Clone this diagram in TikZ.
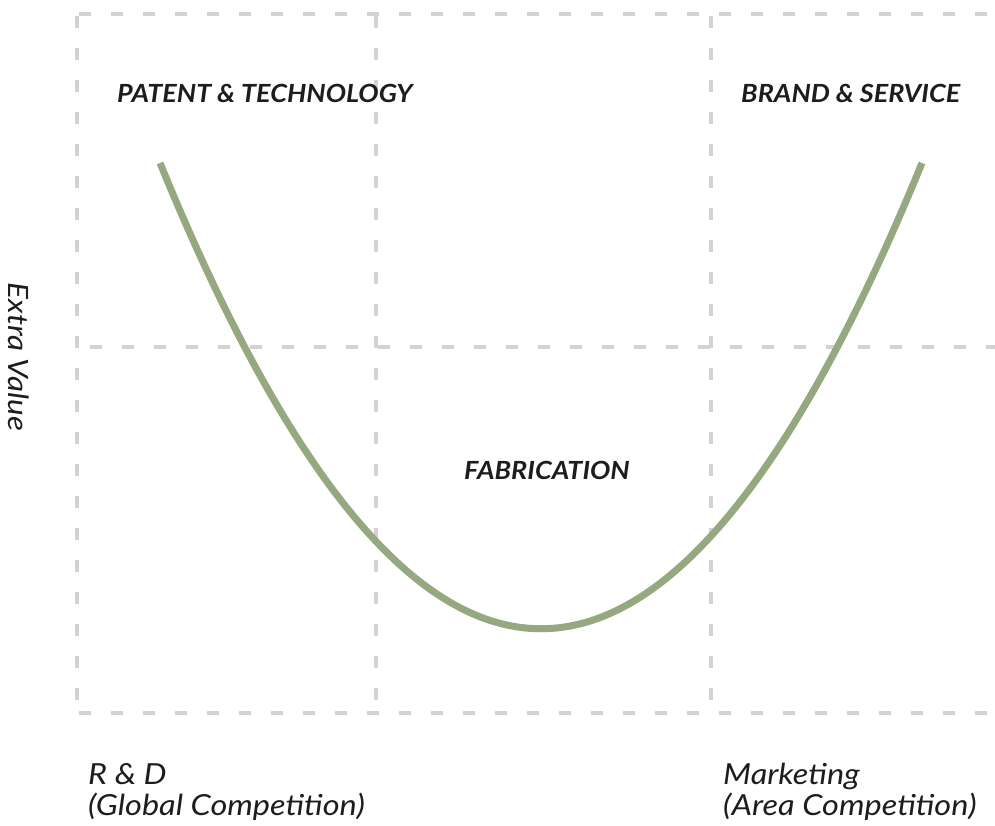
\documentclass[tikz,border=0pt]{standalone}
\usepackage{fontspec}
\setmainfont{Lato}
\newfontfamily\headfont[FakeStretch=1.08]{Lato}
\newfontfamily\axisfont[FakeStretch=1.12]{Lato}
\begin{document}
\begin{tikzpicture}[x=1pt,y=-1pt,
  gridline/.style={draw=gridgray,line width=4pt,dash pattern=on 12pt off 20pt},
  valuecurve/.style={draw=curvegreen,line width=7pt},
  headlabel/.style={anchor=base west,inner sep=0pt,font=\headfont\fontsize{25}{29}\selectfont\bfseries\itshape,text=labelblack},
  axislabel/.style={anchor=base west,inner sep=0pt,align=left,font=\axisfont\fontsize{29}{31}\selectfont\itshape,text=labelblack}]
\definecolor{gridgray}{HTML}{D2D2D2}
\definecolor{curvegreen}{HTML}{96A87F}
\definecolor{labelblack}{HTML}{1E1C1D}
\useasboundingbox (0,0) rectangle (995,826);
\fill[white] (0,0) rectangle (995,826);

% dashed grid
\coordinate (tl) at (77,14);
\coordinate (tr) at (995,14);
\coordinate (bl) at (77,713);
\coordinate (br) at (995,713);
\coordinate (ml) at (90,347);
\coordinate (mr) at (995,347);
\coordinate (c1t) at (376,14);
\coordinate (c1b) at (376,713);
\coordinate (c2t) at (711,14);
\coordinate (c2b) at (711,713);
\draw[gridline,dash phase=-2pt] (tl) -- (tr);
\draw[gridline,dash phase=-2pt] (bl) -- (br);
\draw[gridline] (ml) -- (mr);
\draw[gridline,dash phase=-2pt] (tl) -- (bl);
\draw[gridline,dash phase=-2pt] (c1t) -- (c1b);
\draw[gridline,dash phase=-2pt] (c2t) -- (c2b);

% smile curve
\coordinate (cs) at (160,163);
\coordinate (ce) at (922,163);
\draw[valuecurve] (cs) .. controls (414,784) and (668,784) .. (ce);

% labels
\node[headlabel] (patent) at (117,103) {PATENT \& TECHNOLOGY};
\node[headlabel] (brand) at (741,103) {BRAND \& SERVICE};
\node[headlabel] (fab) at (464,479) {FABRICATION};
\node[anchor=center,inner sep=0pt,rotate=-90,font=\axisfont\fontsize{28}{30}\selectfont\itshape,text=labelblack] (extra) at (19,357) {Extra Value};
\node[axislabel] (rd) at (88,815) {R \& D\\(Global Competition)};
\node[axislabel] (mk) at (723,815) {Marketing\\(Area Competition)};
\end{tikzpicture}
\end{document}
